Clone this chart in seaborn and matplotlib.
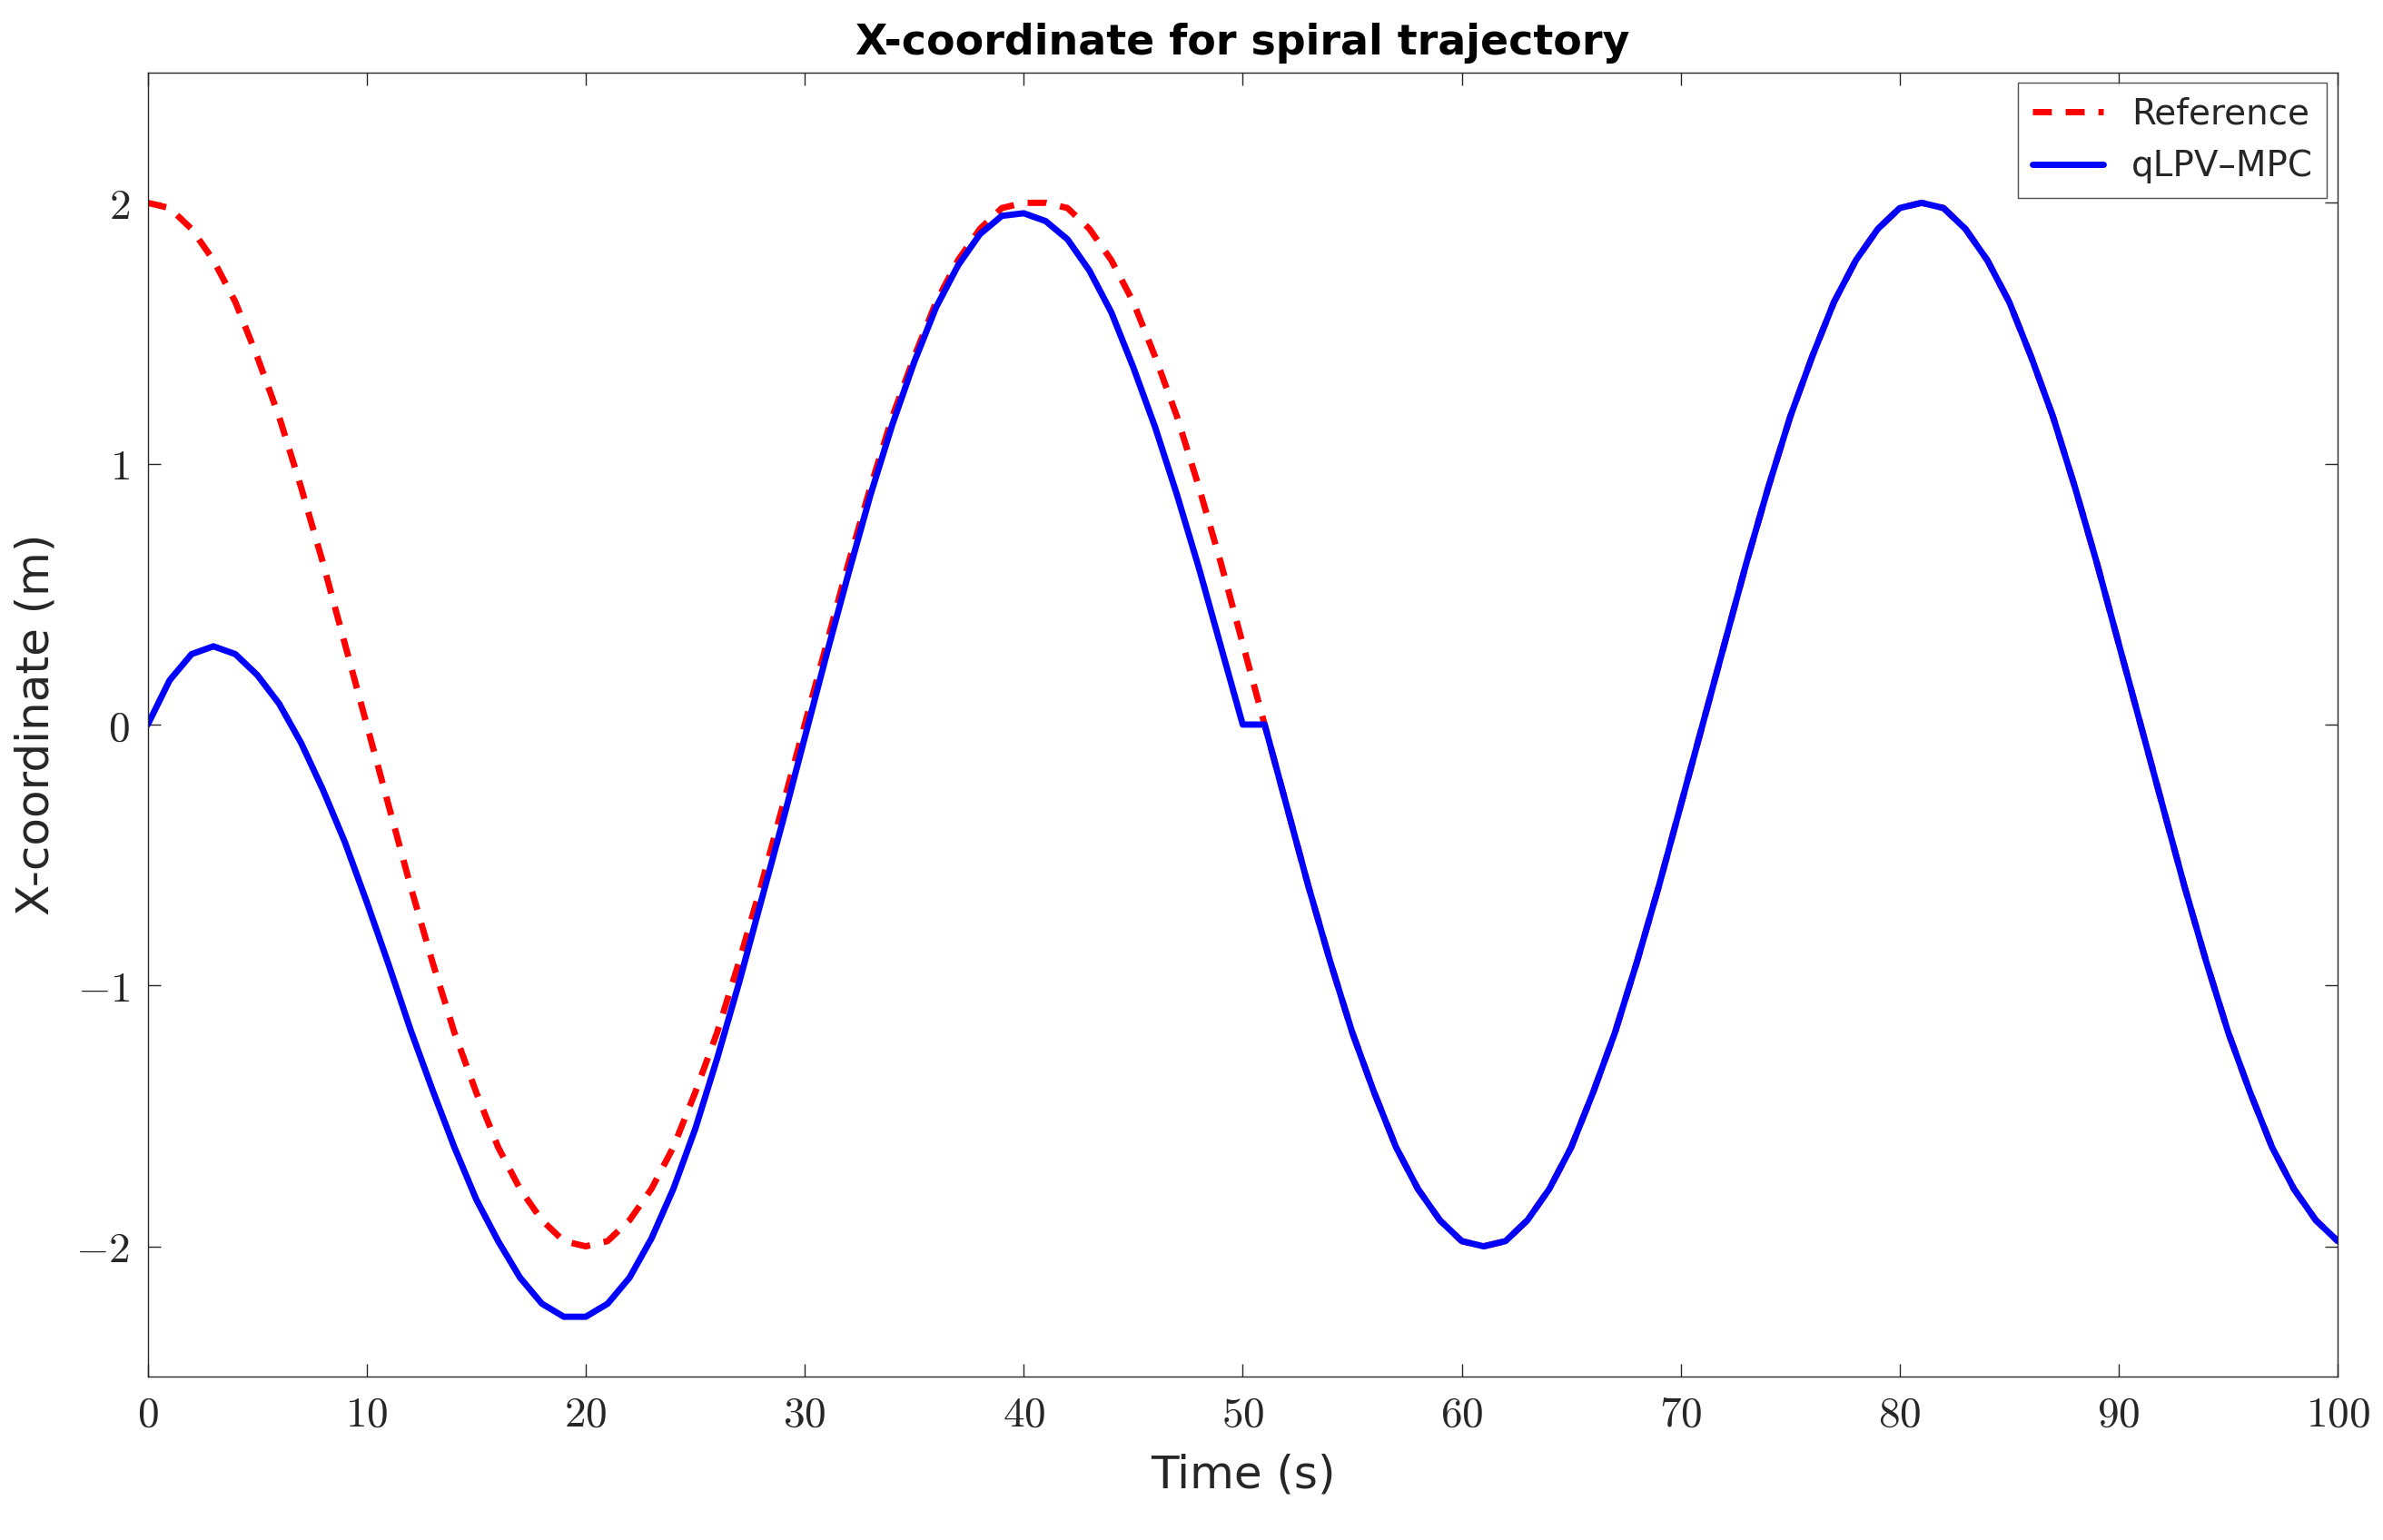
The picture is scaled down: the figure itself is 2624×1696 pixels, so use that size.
import matplotlib
matplotlib.use('Agg')
import matplotlib.pyplot as plt
import seaborn as sns
import pandas as pd

# values, every 1 s
time_s = list(range(0, 101))
ref_half_cycle = [2.00, 1.98, 1.90, 1.78, 1.62, 1.41, 1.18, 0.91, 0.62, 0.31, 0.00,
                  -0.31, -0.62, -0.91, -1.18, -1.41, -1.62, -1.78, -1.90, -1.98, -2.00]
reference = (ref_half_cycle + ref_half_cycle[::-1][1:]) * 2 + ref_half_cycle[1:]
reference = reference[:101]
qlpv_start = [0.00, 0.17, 0.27, 0.30, 0.27, 0.19, 0.08, -0.07, -0.25, -0.45,
              -0.68, -0.92, -1.17, -1.40, -1.62, -1.82, -1.98, -2.12, -2.22, -2.27,
              -2.27, -2.22, -2.12, -1.97, -1.78, -1.55, -1.28, -0.99, -0.68, -0.37,
              -0.05, 0.27, 0.58, 0.88, 1.15, 1.39, 1.60, 1.76, 1.88, 1.95,
              1.96, 1.93, 1.86, 1.74, 1.58, 1.37, 1.14, 0.88, 0.60, 0.30, 0.00]
qlpv_mpc = qlpv_start + reference[51:]

df = pd.DataFrame({'t': time_s, 'Reference': reference, 'qLPV-MPC': qlpv_mpc})

sns.set_style('white')
plt.rcParams['mathtext.fontset'] = 'cm'

fig = plt.figure(figsize=(26.24, 16.96), dpi=100)
ax = fig.add_axes([0.062, 0.106, 0.919, 0.847])

sns.lineplot(data=df, x='t', y='Reference', ax=ax, color='red', lw=5,
             linestyle=(0, (3, 2.2)), label='Reference')
sns.lineplot(data=df, x='t', y='qLPV-MPC', ax=ax, color='blue', lw=5,
             label='qLPV\u2013MPC')

ax.set_xlim(0, 100)
ax.set_ylim(-2.5, 2.5)
ax.set_xticks(range(0, 101, 10))
ax.set_yticks([-2, -1, 0, 1, 2])
ax.set_xticklabels([f'${v}$' for v in range(0, 101, 10)])
ax.set_yticklabels(['$-2$', '$-1$', '$0$', '$1$', '$2$'])
ax.tick_params(direction='in', length=10, width=1, labelsize=34, top=True, right=True,
               bottom=True, left=True, colors='#262626', pad=14)
for s in ax.spines.values():
    s.set_color('#262626')
    s.set_linewidth(1)

ax.set_xlabel('Time (s)', fontsize=36, labelpad=14)
ax.set_ylabel('X-coordinate (m)', fontsize=36, labelpad=14)
ax.set_title('X-coordinate for spiral trajectory', fontsize=33, fontweight='bold',
             pad=14, color='black')

leg = ax.legend(loc='upper right', fontsize=28, frameon=True, fancybox=False,
                edgecolor='#262626', handlelength=2.0, borderaxespad=0.3)
leg.get_frame().set_linewidth(1)

fig.savefig('out.png', dpi=100)
